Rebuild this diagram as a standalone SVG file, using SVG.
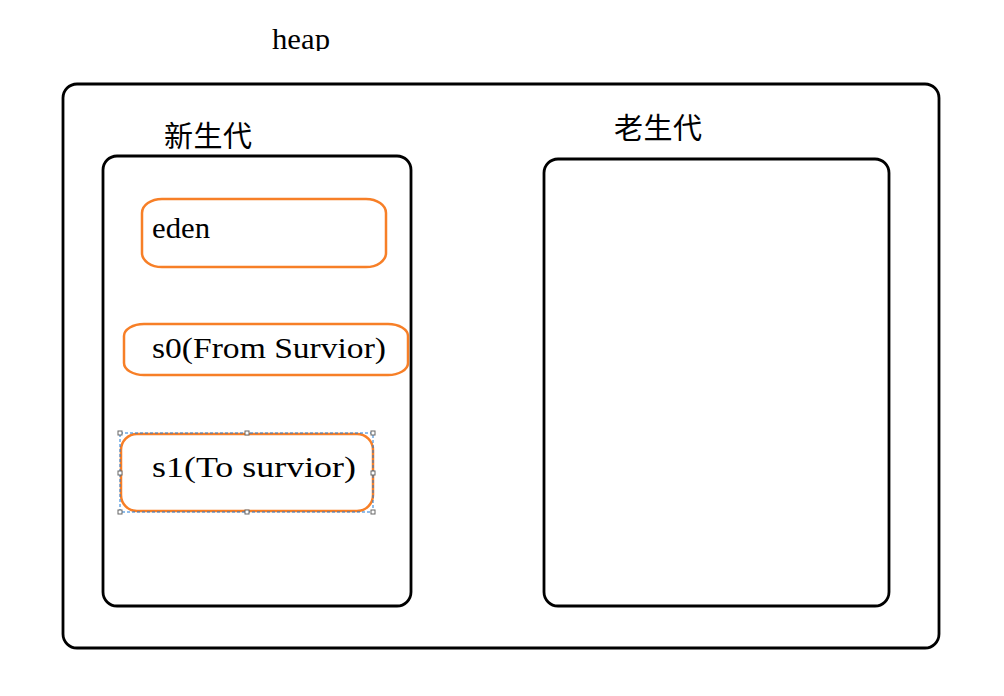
<svg xmlns="http://www.w3.org/2000/svg" width="1004" height="696" viewBox="0 0 1004 696">
<style>
.box{fill:none;stroke:#000;stroke-width:2.8}
.orange{fill:none;stroke:#f77f27;stroke-width:2.5}
.t{font-family:"Liberation Serif","Noto Sans CJK SC",serif;font-size:29px;fill:#000}
.cjk{font-family:"Noto Sans CJK SC",sans-serif;font-size:29px;fill:#000}
.sel{fill:none;stroke:#1e7bd6;stroke-width:1;stroke-dasharray:3 2}
.h{fill:#fff;stroke:#666;stroke-width:1}
</style>
<defs>
<clipPath id="clipHeap"><rect x="0" y="0" width="1004" height="51"/></clipPath>
</defs>
<rect width="1004" height="696" fill="#fff"/>
<text class="t" x="272" y="49" textLength="58" lengthAdjust="spacingAndGlyphs" clip-path="url(#clipHeap)">heap</text>
<g id="heap">
<rect class="box" x="63" y="84" width="876" height="564" rx="14"/>
</g>
<g id="young">
<rect class="box" x="103" y="156" width="308" height="450" rx="14"/>
<text class="cjk" x="164" y="147" textLength="88">新生代</text>
</g>
<g id="old">
<rect class="box" x="544" y="159" width="345" height="447" rx="14"/>
<text class="cjk" x="614" y="139" textLength="88">老生代</text>
</g>
<g id="eden">
<rect class="orange" x="142" y="199" width="244" height="68" rx="20" ry="14"/>
<text class="t" x="152" y="238" textLength="58" lengthAdjust="spacingAndGlyphs">eden</text>
</g>
<g id="s0">
<rect class="orange" x="124" y="324" width="284" height="51" rx="20" ry="12"/>
<text class="t" x="152" y="358" textLength="234" lengthAdjust="spacingAndGlyphs">s0(From Survior)</text>
</g>
<g id="s1">
<rect class="orange" x="121" y="434" width="252" height="77" rx="16"/>
<text class="t" x="152" y="477" textLength="204" lengthAdjust="spacingAndGlyphs">s1(To survior)</text>
<rect class="sel" x="120" y="433" width="253" height="79"/>
<rect class="h" x="118" y="431" width="4" height="4"/>
<rect class="h" x="245" y="431" width="4" height="4"/>
<rect class="h" x="371" y="431" width="4" height="4"/>
<rect class="h" x="118" y="471" width="4" height="4"/>
<rect class="h" x="371" y="471" width="4" height="4"/>
<rect class="h" x="118" y="510" width="4" height="4"/>
<rect class="h" x="245" y="510" width="4" height="4"/>
<rect class="h" x="371" y="510" width="4" height="4"/>
</g>
<g id="connectors"></g>
</svg>
